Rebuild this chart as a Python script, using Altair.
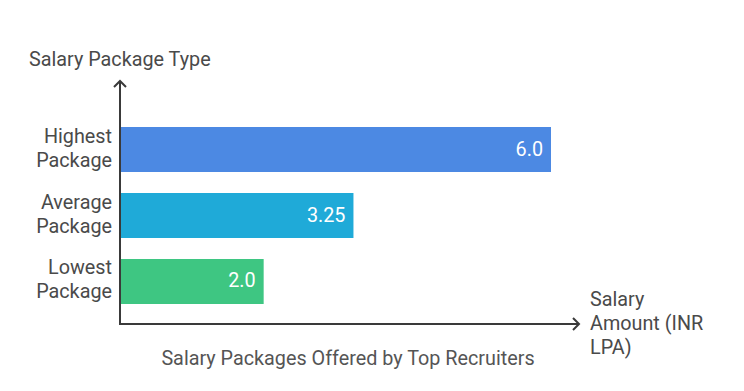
import altair as alt
import pandas as pd

categories = ["Highest Package", "Average Package", "Lowest Package"]
values = [6.0, 3.25, 2.0]
value_labels = ["6.0", "3.25", "2.0"]
colors = ["#4C89E3", "#1FAAD8", "#3EC682"]

title_text = "Salary Packages Offered by Top Recruiters"
y_title = "Salary Package Type"
x_title = ["Salary", "Amount (INR", "LPA)"]

df = pd.DataFrame({"cat": categories, "val": values, "lab": value_labels})

FONT = "Roboto"
FS = 19.8
TXT = "#4a4a4a"
AX = "#3a3a3a"
W, H = 460, 244

yscale = alt.Scale(domain=categories, range=[47, 224], paddingInner=0.318, paddingOuter=0)
xscale = alt.Scale(domain=[0, 6], range=[0, 431])

base = alt.Chart(df)

bars = base.mark_bar().encode(
    x=alt.X("val:Q", scale=xscale, axis=None),
    y=alt.Y("cat:N", scale=yscale, axis=None),
    color=alt.Color("cat:N", scale=alt.Scale(domain=categories, range=colors), legend=None),
)

vals = base.mark_text(align="right", baseline="middle", dx=-8, font=FONT, fontSize=FS, color="white").encode(
    x=alt.X("val:Q", scale=xscale),
    y=alt.Y("cat:N", scale=yscale),
    text="lab:N",
)

cats = base.mark_text(align="right", baseline="middle", dy=-13, font=FONT, fontSize=FS, color=TXT, lineBreak=" ", lineHeight=24).encode(
    x=alt.value(-8),
    y=alt.Y("cat:N", scale=yscale),
    text="cat:N",
)

one = alt.Data(values=[{}])

yaxis = alt.Chart(one).mark_rule(color=AX, strokeWidth=2).encode(
    x=alt.value(0), y=alt.value(1), y2=alt.value(H + 1))
xaxis = alt.Chart(one).mark_rule(color=AX, strokeWidth=2).encode(
    x=alt.value(-1), x2=alt.value(W - 1), y=alt.value(H))
yarrow = alt.Chart(one).mark_point(shape="M-1,1 L0,0 L1,1", size=144, filled=False, color=AX, strokeWidth=2, opacity=1).encode(
    x=alt.value(0), y=alt.value(1))
xarrow = alt.Chart(one).mark_point(shape="M-1,-1 L0,0 L-1,1", size=144, filled=False, color=AX, strokeWidth=2, opacity=1).encode(
    x=alt.value(W - 1), y=alt.value(H))

ytitle = alt.Chart(one).mark_text(align="left", baseline="middle", font=FONT, fontSize=FS, color=TXT).encode(
    x=alt.value(-91), y=alt.value(-20), text=alt.value(y_title))
xtitle = alt.Chart(one).mark_text(align="left", baseline="middle", font=FONT, fontSize=FS, color=TXT, lineHeight=24).encode(
    x=alt.value(470), y=alt.value(220), text=alt.value(x_title))
btitle = alt.Chart(one).mark_text(align="center", baseline="middle", font=FONT, fontSize=FS, color="#555555").encode(
    x=alt.value(228), y=alt.value(279), text=alt.value(title_text))

chart = alt.layer(bars, vals, cats, yaxis, xaxis, yarrow, xarrow, ytitle, xtitle, btitle).properties(
    width=W, height=H,
    autosize=alt.AutoSizeParams(type="none"),
    padding={"left": 112, "top": 72, "right": 150, "bottom": 60},
).configure_view(stroke=None)

chart.save("out.html", embed_options={"renderer": "svg", "actions": False})
